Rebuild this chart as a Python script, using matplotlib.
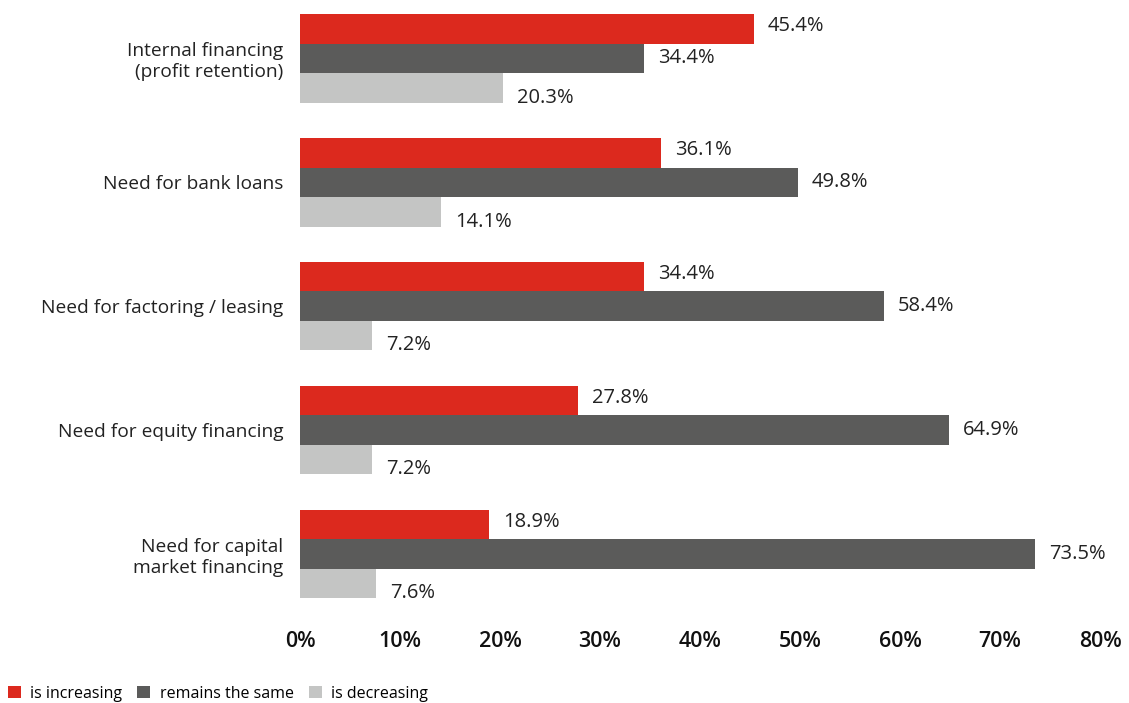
import numpy as np
import matplotlib.pyplot as plt
from matplotlib.patches import Patch

plt.rcParams['font.family'] = ['Open Sans', 'DejaVu Sans']

# Financing needs outlook, share of answers in percent
categories = ['Internal financing\n(profit retention)',
              'Need for bank loans',
              'Need for factoring / leasing',
              'Need for equity financing',
              'Need for capital\nmarket financing']
increasing = [45.4, 36.1, 34.4, 27.8, 18.9]
same = [34.4, 49.8, 58.4, 64.9, 73.5]
decreasing = [20.3, 14.1, 7.2, 7.2, 7.6]
series_names = ['is increasing', 'remains the same', 'is decreasing']
x_ticks = [0, 10, 20, 30, 40, 50, 60, 70, 80]

colors = ['#DC291E', '#5B5B5A', '#C4C5C4']

fig = plt.figure(figsize=(11.29, 7.03), dpi=100)
ax = fig.add_axes([300/1129, 1 - 605/703, 800/1129, 595/703])

y = np.arange(len(categories))
h = 0.238
offsets = [-h, 0, h]
# vertical nudge of the value labels in points
label_dy = [2, 0, -7]

for vals, col, off, dy in zip([increasing, same, decreasing], colors, offsets, label_dy):
    ax.barh(y + off, vals, height=h, color=col, edgecolor='none')
    for yi, v in zip(y, vals):
        ax.annotate(f'{v:.1f}%', xy=(v, yi + off), xytext=(10, dy),
                    textcoords='offset points', ha='left', va='center',
                    fontsize=14.5, color='#222222')

ax.set_xlim(0, 80)
ax.set_ylim(4.412, -0.391)
ax.set_yticks(y)
ax.set_yticklabels(categories, fontsize=13.8, color='#222222', linespacing=1.2)
ax.set_xticks(x_ticks)
ax.set_xticklabels([f'{t}%' for t in x_ticks], fontsize=15.5, fontweight='semibold',
                   color='#111111')
ax.tick_params(axis='y', length=0, pad=12)
ax.tick_params(axis='x', length=0, pad=19)
for s in ax.spines.values():
    s.set_visible(False)

handles = [Patch(facecolor=c, edgecolor='none') for c in colors]
fig.legend(handles, series_names, loc='lower left', bbox_to_anchor=(-0.003, -0.014),
           ncol=3, frameon=False, fontsize=11.5, handlelength=0.8, handleheight=0.8,
           handletextpad=0.6, columnspacing=0.95, borderaxespad=0.3)

fig.savefig('out.png', dpi=100, facecolor='white')
